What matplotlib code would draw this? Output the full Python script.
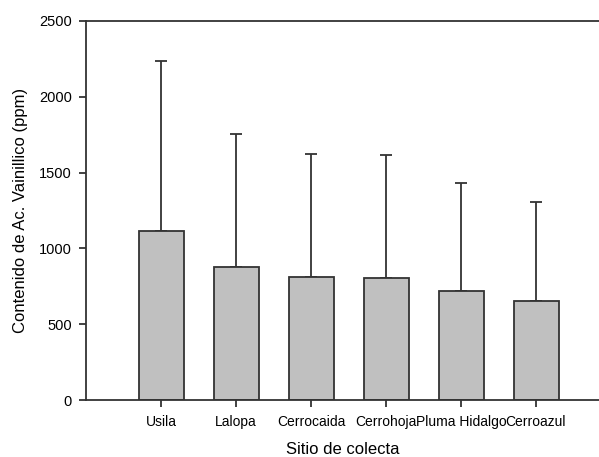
import matplotlib
matplotlib.use("Agg")
import matplotlib.pyplot as plt
import numpy as np

sites = ["Usila", "Lalopa", "Cerrocaida", "Cerrohoja", "Pluma Hidalgo", "Cerroazul"]
means = [1115, 879, 813, 807, 719, 653]
sd = [1121, 873, 807, 809, 714, 653]
yticks = [0, 500, 1000, 1500, 2000, 2500]

plt.rcParams['font.family'] = ['Liberation Sans', 'DejaVu Sans']

fig = plt.figure(figsize=(5.99, 4.57), dpi=100)
ax = fig.add_axes([86/599, 57/457, 1 - 86/599, (400-21)/457])

x = np.arange(len(sites))
ec = '#333333'
ax.bar(x, means, width=0.6, color='#c0c0c0', edgecolor=ec, linewidth=1.3, zorder=2)
ax.errorbar(x, means, yerr=[np.zeros(len(sd)), sd], fmt='none', ecolor=ec,
            elinewidth=1.3, capsize=4, capthick=1.3, zorder=1)

ax.set_xlim(-1, 5.84)
ax.set_ylim(0, 2500)
ax.set_yticks(yticks)
ax.set_xticks(x)
ax.set_xticklabels(sites, fontsize=10)
ax.tick_params(axis='y', labelsize=10.5, direction='out', length=5, width=1.3, color=ec, pad=5)
ax.tick_params(axis='x', direction='out', length=5, width=1.3, color=ec, pad=6)

for s in ['left', 'bottom', 'top']:
    ax.spines[s].set_color(ec)
    ax.spines[s].set_linewidth(1.3)
ax.spines['right'].set_visible(False)

ax.set_ylabel("Contenido de Ac. Vainillico (ppm)", fontsize=12, labelpad=8)
ax.set_xlabel("Sitio de colecta", fontsize=12, labelpad=9)

fig.savefig("out.png", dpi=100)
